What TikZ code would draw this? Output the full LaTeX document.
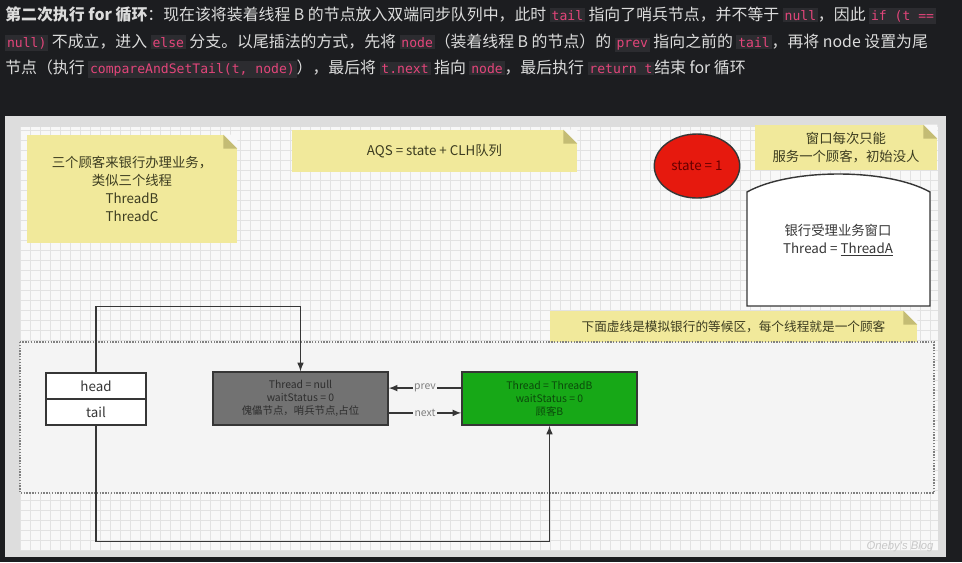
\documentclass[tikz,border=0pt]{standalone}
\usepackage{fontspec}
\setmainfont{Noto Sans CJK SC}
\setmonofont{DejaVu Sans Mono}
\newfontfamily\blogfont{Liberation Sans}
\usepackage{xcolor}
\usetikzlibrary{arrows,shapes.geometric,positioning}

\definecolor{pagedark}{HTML}{1C1D20}
\definecolor{toptext}{HTML}{DCDCDC}
\definecolor{codefg}{HTML}{E2457A}
\definecolor{codebg}{HTML}{2C2C30}
\definecolor{framegray}{HTML}{DDDDDD}
\definecolor{canvasbg}{HTML}{F8F8F8}
\definecolor{gridc}{HTML}{E2E2E2}
\definecolor{waitbg}{HTML}{F4F4F4}
\definecolor{noteyellow}{HTML}{F1E99B}
\definecolor{folddark}{HTML}{C4BC74}
\definecolor{notetext}{HTML}{3C3C20}
\definecolor{linegray}{HTML}{363636}
\definecolor{dummygray}{HTML}{727272}
\definecolor{dummytext}{HTML}{2E2E2E}
\definecolor{nodegreen}{HTML}{17A817}
\definecolor{greentext}{HTML}{0B4A0B}
\definecolor{statered}{HTML}{E6190E}

\newcommand\code[1]{{\setlength{\fboxsep}{1.3pt}\colorbox{codebg}{\ttfamily\fontsize{9.3}{11}\selectfont\color{codefg}#1}}}

% corner of a drawio note
\newcommand\notefold[1]{%
  \fill[canvasbg] ([xshift=-0.35cm]#1.north east) -- (#1.north east) -- ([yshift=-0.35cm]#1.north east) -- cycle;
  \fill[folddark] ([xshift=-0.35cm]#1.north east) -- ([xshift=-0.35cm,yshift=-0.35cm]#1.north east) -- ([yshift=-0.35cm]#1.north east) -- cycle;}

\tikzset{
  yellownote/.style={fill=noteyellow, inner sep=2pt, align=center, text=notetext,
    font=\fontsize{9.5}{12.8}\selectfont},
  listbox/.style={draw=linegray, line width=1pt, fill=white, minimum width=2.5cm,
    minimum height=0.65cm, font=\fontsize{9.5}{11}\selectfont, text=linegray},
  qnode/.style={draw=linegray, line width=1pt, minimum width=4.375cm, minimum height=1.325cm,
    align=center, font=\fontsize{7.4}{9.2}\selectfont},
  link/.style={draw=linegray, line width=1.1pt, -latex},
  linklabel/.style={fill=waitbg, inner sep=1pt, font=\fontsize{7.4}{9}\selectfont, text=gray},
  topline/.style={anchor=base west, inner sep=0, text=toptext, font=\fontsize{11.3}{13}\selectfont},
}

\begin{document}
\begin{tikzpicture}[x=0.025cm, y=-0.025cm]
  \useasboundingbox (0,0) rectangle (962,562);
  \fill[pagedark] (0,0) rectangle (962,562);

  % description above the drawing
  \node[topline] (line1) at (5,20) {\textbf{第二次执行 for 循环}：现在该将装着线程 B 的节点放入双端同步队列中，此时 \code{tail} 指向了哨兵节点，并不等于 \code{null}，因此 \code{if (t ==}};
  \node[topline] (line2) at (5,47) {\code{null)} 不成立，进入 \code{else} 分支。以尾插法的方式，先将 \code{node}（装着线程 B 的节点）的 \code{prev} 指向之前的 \code{tail}，再将 node 设置为尾};
  \node[topline] (line3) at (5,73) {节点（执行 \code{compareAndSetTail(t, node)}），最后将 \code{t.next} 指向 \code{node}，最后执行 \code{return t}结束 for 循环};

  % drawio canvas
  \fill[framegray] (5,116) rectangle (946,557);
  \fill[canvasbg] (20,127) rectangle (938,551);
  \draw[gridc, step=0.25cm] (20,127) grid (938,551);

  % notes
  \node[yellownote, minimum width=5.25cm, minimum height=2.7cm] (customers) at (132,189)
    {三个顾客来银行办理业务，\\类似三个线程\\ThreadB\\ThreadC};
  \notefold{customers}
  \node[yellownote, minimum width=7.125cm, minimum height=1.05cm] (aqs) at (434.5,151)
    {AQS = state + CLH队列};
  \notefold{aqs}
  \node[yellownote, minimum width=4.55cm, minimum height=1.125cm] (winnote) at (846,147.5)
    {窗口每次只能\\服务一个顾客，初始没人};
  \notefold{winnote}

  % state
  \node[ellipse, draw=linegray, line width=1pt, fill=statered, minimum width=2.1cm,
    minimum height=1.6cm, text=red!40!black, font=\fontsize{9.5}{11}\selectfont] (state) at (697,166) {state = 1};

  % bank window
  \draw[draw=linegray, line width=1pt, fill=white] (747,306) -- (747,192)
    .. controls (790,168) and (887,168) .. (930,192) -- (930,306) -- cycle;
  \node[align=center, text=linegray, font=\fontsize{9.5}{12.8}\selectfont] (window) at (838,240)
    {银行受理业务窗口\\Thread = \underline{ThreadA}};

  % waiting area
  \node[yellownote, minimum width=9.175cm, minimum height=0.775cm, font=\fontsize{9}{11}\selectfont] (waitnote) at (733.5,326.5)
    {下面虚线是模拟银行的等候区，每个线程就是一个顾客};
  \notefold{waitnote}
  \draw[gray, densely dotted, line width=1pt, fill=waitbg] (20,342) rectangle (934,493);

  \node[listbox] (head) at (96,386) {head};
  \node[listbox] (tail) at (96,412) {tail};
  \node[qnode, fill=dummygray, text=dummytext] (dummy) at (300.5,398.5)
    {Thread = null\\waitStatus = 0\\傀儡节点，哨兵节点,占位};
  \node[qnode, fill=nodegreen, text=greentext] (nodeB) at (549.5,398.5)
    {Thread = ThreadB\\waitStatus = 0\\顾客B};

  \draw[link] (head.north) -- ++(0,-66) -| (dummy.north);
  \draw[link] (tail.south) -- ++(0,116) -| (nodeB.south);
  \draw[link] ([yshift=0.26cm]nodeB.west) -- node[linklabel] (prevlbl) {prev} ([yshift=0.26cm]dummy.east);
  \draw[link] ([yshift=-0.36cm]dummy.east) -- node[linklabel] (nextlbl) {next} ([yshift=-0.36cm]nodeB.west);

  \node[text=black!22, font=\fontsize{8}{9}\blogfont\itshape] (blog) at (900,547) {Oneby's Blog};
\end{tikzpicture}
\end{document}
